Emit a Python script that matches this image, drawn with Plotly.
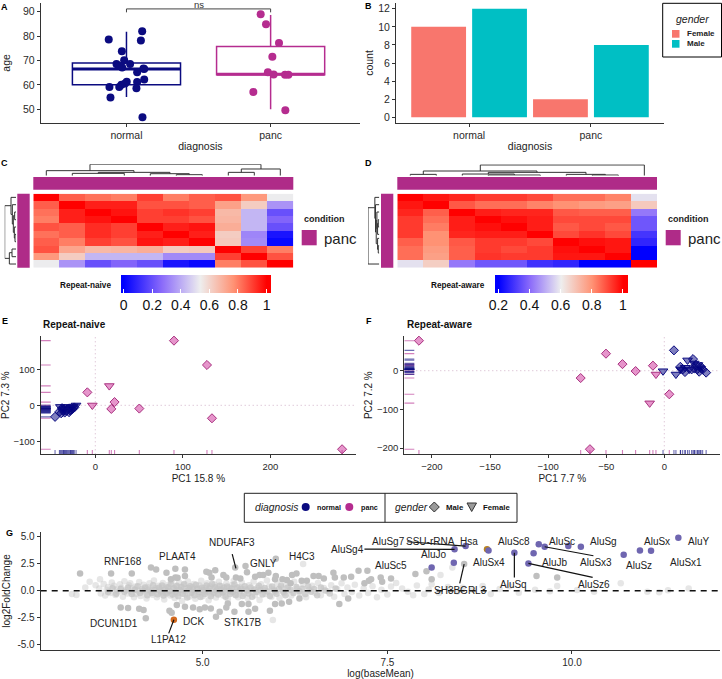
import plotly.graph_objects as go

W, H = 722, 679
FONT = "Liberation Sans"
NAVY = "#0B0B80"
PANC = "#B52C8F"
INK = "#222222"

# ---------- A: age by diagnosis ----------
age_normal_x = [0.877, 1.109, 1.100, 0.968, 0.984, 0.931, 1.025, 0.970, 1.118, 1.123, 1.074, 1.123,
                1.002, 1.074, 0.965, 0.882, 0.950, 1.069, 0.889, 1.111, 0.990, 0.945]
age_normal_y = [78.6, 82.0, 78.2, 73.8, 70.1, 68.6, 68.6, 67.1, 66.7, 66.5, 65.2, 62.2,
                61.3, 61.2, 60.1, 59.1, 59.1, 58.6, 54.8, 46.7, 60.6, 67.8]
age_panc_x = [1.931, 1.968, 2.058, 2.012, 1.981, 2.021, 2.100, 2.123, 1.880, 2.102]
age_panc_y = [88.9, 84.8, 77.1, 71.5, 65.2, 64.3, 64.1, 64.1, 57.1, 49.6]
box_normal = dict(q1=60.1, med=66.5, q3=69.0, lo=55.0, hi=81.8)
box_panc = dict(q1=64.1, med=64.4, q3=75.7, lo=50.0, hi=88.6)
diagnosis_labels = ["normal", "panc"]

# ---------- B: counts ----------
count_female = [10, 2]
count_male = [12, 8]

# ---------- C / D: correlation heatmaps ----------
corr_naive = [
    [1.00, .85, .82, .80, .90, .80, .85, .87, .75, .53],
    [.85, 1.00, .95, .95, .87, .87, .85, .73, .62, .35],
    [.82, .95, 1.00, .97, .90, .92, .90, .67, .42, .20],
    [.80, .95, .97, 1.00, .90, .90, .87, .68, .42, .25],
    [.87, .85, .93, .90, 1.00, .95, .97, .70, .42, .20],
    [.82, .85, .93, .90, .95, 1.00, .95, .62, .32, .05],
    [.85, .80, .90, .87, .97, .95, 1.00, .63, .33, .02],
    [.87, .72, .67, .68, .70, .62, .63, 1.00, .90, .80],
    [.75, .62, .42, .42, .42, .33, .33, .90, 1.00, .87],
    [.53, .35, .20, .25, .20, .05, .02, .80, .87, 1.00],
]
corr_aware = [
    [1.00, .97, .95, .92, .92, .90, .85, .85, .82, .58],
    [.97, 1.00, .88, .85, .85, .82, .80, .78, .77, .68],
    [.95, .87, 1.00, .96, .95, .95, .88, .87, .87, .42],
    [.92, .85, .96, 1.00, .98, .96, .90, .90, .90, .36],
    [.92, .83, .96, .98, 1.00, .96, .88, .90, .88, .36],
    [.92, .80, .95, .96, .96, 1.00, .90, .93, .90, .30],
    [.87, .80, .88, .92, .92, .90, 1.00, .98, .97, .27],
    [.85, .78, .87, .92, .90, .92, .98, 1.00, .97, .20],
    [.85, .77, .87, .93, .92, .92, .97, .97, 1.00, .18],
    [.58, .67, .42, .36, .36, .29, .27, .20, .18, 1.00],
]
# dendrogram merges: (a, b, height, base_a, base_b)
dendro_c_top = [(217, 373, 55, 62, 62), (529, 607, 59, 62, 62), (451, 568, 56, 62, 59), (295, 510, 52, 55, 56),
                (139, 402, 47, 62, 52), (685, 763, 52, 62, 62), (724, 841, 42, 52, 62), (270, 783, 28, 47, 42)]
dendro_c_left = [(238, 260, 45, 48, 48), (216, 249, 43, 48, 45), (171, 194, 44, 48, 48), (182, 232, 40, 44, 43),
                 (149, 207, 37, 48, 40), (127, 178, 33, 48, 37), (282, 305, 36, 48, 48), (293, 327, 28, 36, 48),
                 (152, 310, 14, 33, 28)]
dendro_d_top = [(148, 226, 58, 62, 62), (382, 538, 60, 62, 62), (304, 460, 57, 62, 60), (694, 772, 60, 62, 62),
                (616, 733, 58, 62, 60), (382, 675, 52, 57, 58), (187, 528, 48, 58, 52), (358, 850, 30, 48, 62)]
dendro_d_left = [(272, 294, 52, 55, 55), (250, 283, 50, 55, 52), (194, 216, 52, 55, 55), (205, 238, 50, 52, 55),
                 (171, 221, 48, 55, 50), (196, 266, 46, 48, 50), (149, 231, 44, 55, 46), (127, 190, 42, 55, 44),
                 (158, 327, 22, 42, 55)]

# ---------- E: PCA repeat-naive ----------
e_panc_dia_x = [89.9, 127.6, -9.1, 22.0, 18.3, 50.3, 133.3, 282.0]
e_panc_dia_y = [179.6, 112.0, 36.0, 9.0, -10.0, -9.0, -36.0, -122.0]
e_panc_tri_x = [16.0, -3.4]
e_panc_tri_y = [54.0, 0.0]
e_norm_dia_x = [-46, -41, -39, -37, -35, -33, -31, -30, -28, -26, -38, -24]
e_norm_dia_y = [-32, -18, -22, -13, -20, -15, -10, -19, -12, -10, -8, -6]
e_norm_tri_x = [-22, -25, -28, -32, -34, -36, -29, -40, -27, -36]
e_norm_tri_y = [0, -3, -5, -8, -4, -10, -15, -4, -8, -16]

# ---------- F: PCA repeat-aware ----------
f_panc_dia_x = [-211.2, -50.2, -36.0, -24.7, -9.8, -72.0, 4.3, -64.0]
f_panc_dia_y = [77.6, 44.0, 17.0, -1.0, 13.0, -19.0, -61.0, -203.0]
f_panc_tri_x = [-12.6, -7.2]
f_panc_tri_y = [-84.0, -9.5]
f_norm_dia_x = [8.3, 24.7, 13.8, 15.8, 17.8, 23.5, 27.3, 30.0, 31.6, 36.0, 33.0, 25.8]
f_norm_dia_y = [52.6, 30.0, 10.0, 3.4, -3.4, 3.4, 15.0, -2.6, 10.0, -5.0, 3.4, 6.0]
f_norm_tri_x = [-1.1, 10.0, 20.0, 21.5, 28.7, 29.0, 25.8, 14.0, 18.0, 31.0]
f_norm_tri_y = [-1.0, -9.5, 27.0, 3.4, 3.4, 15.0, 19.0, 3.4, 8.0, 6.0]

# ---------- G: MA plot ----------
g_ns = [
 (3.23,-.3),(3.29,-.4),(3.41,.3),(3.47,.83),(3.61,1.05),(3.55,.5),(3.6,.2),(3.62,-.25),(3.66,.62),(3.68,-.45),
 (3.7,.1),(3.72,.35),(3.75,-.2),(3.77,.75),(3.8,.45),(3.82,-.4),(3.84,.12),(3.86,-.08),(3.88,.6),(3.9,.28),
 (3.92,-.55),(3.94,.88),(3.96,.05),(3.98,-.25),(4.0,.5),(4.02,.7),(4.03,-.1),(4.05,.2),(4.07,-.6),(4.09,.38),
 (4.1,-.3),(4.12,.02),(4.14,.8),(4.16,-.48),(4.18,.15),(4.2,.55),(4.22,-.15),(4.24,-.72),(4.26,.32),(4.28,.68),
 (4.3,-.05),(4.32,-.38),(4.34,.95),(4.36,.22),(4.38,-.6),(4.4,.45),(4.42,.08),(4.44,-.25),(4.46,.72),(4.48,-.82),
 (4.5,.3),(4.52,-.1),(4.54,.55),(4.56,-.45),(4.58,.9),(4.6,.12),(4.62,-.68),(4.64,.4),(4.66,-.2),(4.68,.75),
 (4.7,.02),(4.72,-.95),(4.74,.5),(4.76,-.35),(4.78,.2),(4.8,.85),(4.82,-.55),(4.84,-.08),(4.86,.35),(4.88,.62),
 (4.9,-.75),(4.92,.1),(4.94,-.28),(4.96,.48),(4.98,.92),(5.0,-.5),(5.02,.25),(5.04,-.12),(5.06,.7),(5.08,-.88),
 (5.1,.38),(5.12,-.32),(5.14,.05),(5.16,.58),(5.18,-.62),(5.2,.18),(5.22,.82),(5.24,-.2),(5.26,.42),(5.28,-.45),
 (5.3,-.02),(5.32,.66),(5.34,-.78),(5.36,.28),(5.38,-.15),(5.4,.52),(5.42,.9),(5.44,-.38),(5.46,.1),(5.48,-.6),
 (5.5,.35),(5.53,.75),(5.56,-.25),(5.58,.15),(5.61,-.7),(5.63,.5),(5.66,-.05),(5.69,.85),(5.71,-.42),(5.74,.28),
 (5.77,-.85),(5.79,.6),(5.82,.08),(5.85,-.3),(5.87,.95),(5.9,.4),(5.93,-.55),(5.96,.15),(5.98,-.12),(6.01,.7),
 (6.04,-.68),(6.07,.3),(6.1,-.2),(6.13,.55),(6.16,.02),(6.2,-.45),(6.24,.82),(6.28,.2),(6.32,-.3),(6.36,.6),
 (6.36,2.46),(5.95,-2.7),(6.4,-.6),(6.44,.1),(6.48,.45),(6.52,-.18),(6.56,.72),(6.6,-.42),(6.64,.25),(6.7,-.05),
 (6.74,.5),(6.78,-.55),(6.82,.15),(6.88,.68),(6.92,-.3),(6.96,.3),(7.02,-.12),(7.06,.55),(7.12,-.45),(7.18,.2),
 (7.24,-.22),(7.3,.42),(7.36,-.6),(7.42,.1),(7.5,-.35),(7.55,.38),(7.62,.72),(7.7,.2),(7.78,-.1),(7.85,-.42),
 (7.9,.48),(8.0,-.3),(8.06,.12),(8.1,.6),(8.22,1.45),(8.2,-.2),(8.32,.35),(8.38,2.15),(8.45,-.08),(8.52,.28),
 (8.66,.1),(8.79,.43),(8.9,-.3),(9.02,.15),(9.28,-.18),(9.15,.42),(9.5,.1),(9.8,.43),(9.7,-.05),(10.07,.06),
 (10.3,-.1),(10.66,.68),(11.02,-.1),(11.18,-.15),(11.58,.2),(11.3,.05),
]
g_core = [
 (3.72,-.12),(3.78,.22),(3.83,-.28),(3.89,.15),(3.94,-.1),(3.99,.3),(4.04,-.3),(4.08,.1),(4.12,.42),(4.15,-.2),
 (4.19,.02),(4.22,.3),(4.25,-.42),(4.27,.12),(4.31,-.2),(4.33,.5),(4.35,.05),(4.39,-.32),(4.41,.28),(4.43,-.08),
 (4.45,.48),(4.47,-.45),(4.49,.12),(4.51,-.25),(4.53,.32),(4.55,-.02),(4.57,.6),(4.59,-.35),(4.61,.22),(4.63,-.12),
 (4.65,.45),(4.67,-.5),(4.69,.1),(4.71,.35),(4.73,-.28),(4.75,.62),(4.77,-.05),(4.79,-.62),(4.81,.25),(4.83,.42),
 (4.85,-.2),(4.87,.08),(4.89,-.42),(4.91,.55),(4.93,.18),(4.95,-.12),(4.97,-.58),(4.99,.3),(5.01,.05),(5.03,-.3),
 (5.05,.48),(5.07,-.05),(5.09,.2),(5.11,-.52),(5.13,.62),(5.15,-.18),(5.17,.32),(5.19,.02),(5.21,-.35),(5.23,.45),
 (5.25,.1),(5.27,-.15),(5.29,.28),(5.31,-.55),(5.33,.4),(5.35,.0),(5.37,-.3),(5.39,.2),(5.41,-.1),(5.43,.6),
 (5.45,-.42),(5.47,.3),(5.5,-.05),(5.52,.18),(5.54,-.48),(5.57,.42),(5.6,.02),(5.62,-.25),(5.65,.3),(5.67,-.55),
 (5.7,.12),(5.73,-.12),(5.76,.45),(5.78,.05),(5.81,-.35),(5.84,.25),(5.88,-.08),(5.91,-.48),(5.94,.38),(5.97,.02),
 (6.0,-.28),(6.03,.15),(6.06,.45),(6.09,-.1),(6.12,-.42),(6.15,.28),(6.19,.08),(6.23,-.2),(6.27,.35),(6.31,-.05),
 (6.35,.18),(6.39,-.3),(6.43,.38),(6.47,-.1),(6.51,.15),(6.55,-.42),(6.6,.3),(6.66,.02),(6.72,-.25),(6.8,.2),
]
g_sig = [
 (3.34,1.6),(3.76,1.6),(4.04,1.6),(4.30,2.15),(4.37,1.97),(4.51,1.66),(4.63,2.03),(4.76,1.97),(4.57,1.05),(4.63,1.23),
 (4.66,1.2),(4.76,1.35),(5.05,1.75),(5.09,1.66),(5.17,1.9),(5.12,1.23),(5.28,1.45),(5.32,1.23),(5.44,2.15),(5.45,1.23),
 (5.51,1.14),(5.58,2.28),(5.6,1.7),(5.71,1.3),(5.77,1.45),(5.82,1.45),(5.89,1.66),(5.99,2.95),(5.99,1.35),(5.98,1.05),
 (6.08,1.05),(6.14,.98),(6.21,1.45),(6.27,1.6),(6.19,.68),(6.34,.92),(6.41,.92),(6.5,1.35),(6.57,1.35),(6.64,1.14),
 (6.77,1.66),(6.79,1.23),(6.91,1.23),(7.01,1.3),(7.11,1.85),(7.23,1.85),(7.28,1.05),(7.41,1.23),(7.25,.92),(7.43,.83),
 (7.55,1.14),(7.88,1.54),(8.03,1.8),(8.1,1.05),(9.52,1.35),(9.8,1.23),(7.19,.68),(8.54,2.46),
 (3.89,-1.54),(3.99,-1.6),(4.14,-1.66),(4.2,-1.78),(4.23,-2.55),(4.55,-1.85),(4.58,-2.03),(4.65,-1.32),(4.76,-1.48),(4.87,-1.54),
 (4.96,-1.72),(5.03,-1.54),(5.18,-2.4),(5.11,-1.63),(5.23,-1.94),(5.32,-1.54),(5.34,-1.17),(5.43,-1.94),(5.53,-1.23),(5.62,-1.23),
 (5.62,-1.94),(5.71,-1.66),(5.91,-1.85),(5.98,-1.23),(6.07,-1.17),(6.17,-1.02),(6.31,-.71),(6.85,-1.23),(6.97,-.71),
]
g_repeat_x = [8.41, 8.56, 8.10, 8.40, 9.22, 9.48, 9.41, 9.55, 9.63, 9.95, 10.12, 10.70, 10.92, 11.07, 11.44, 8.87]
g_repeat_y = [3.82, 4.12, 2.15, 2.58, 3.50, 3.45, 2.52, 4.30, 4.06, 4.12, 4.06, 3.32, 3.72, 3.69, 4.89, 3.72]
g_gold = (8.85, 3.82)
g_orange = (4.61, -2.68)
g_leaders = [((7.19, 3.85), (8.41, 3.82)), ((7.77, 4.52), (8.56, 4.12)), ((8.48, .68), (8.54, 2.46)),
             ((9.22, 3.5), (9.22, 1.23)), ((9.63, 4.06), (10.29, 3.23)), ((9.41, 2.52), (10.28, 1.23)),
             ((5.4, 3.38), (5.45, 2.06)), ((4.61, -2.68), (4.54, -3.94))]
g_labels = [("RNF168", 123.3, 561.7), ("PLAAT4", 177.7, 556.7), ("NDUFAF3", 231.7, 542.3), ("GNLY", 263.7, 563.3),
            ("H4C3", 302.3, 556), ("AluSg4", 347, 549), ("DCUN1D1", 114, 623.3), ("DCK", 193, 621.7),
            ("STK17B", 242.7, 622), ("L1PA12", 168.3, 639.3), ("AluSg7", 388.3, 541), ("SSU-rRNA", 430, 541),
            ("Hsa", 468.7, 541), ("AluJo", 433.3, 554), ("AluSc5", 391, 565), ("AluSx4", 488.7, 562.7),
            ("AluSc8", 514, 541.7), ("AluSc", 561.7, 541), ("AluSg", 603.7, 541.7), ("AluSx", 656.7, 541),
            ("AluY", 698, 541), ("AluSx1", 686, 562.7), ("AluSz", 639.3, 565.7), ("AluSx3", 596, 562.7),
            ("AluJb", 554, 562.7), ("AluSz6", 594, 584), ("AluSq", 513.7, 584), ("SH3BGRL3", 460.3, 590)]

fig = go.Figure()
layout = dict(
    width=W, height=H, autosize=False, margin=dict(l=0, r=0, t=0, b=0, pad=0),
    paper_bgcolor="white", plot_bgcolor="rgba(0,0,0,0)", showlegend=False,
    font=dict(family=FONT, color=INK, size=10),
    bargap=0, bargroupgap=0.1, boxmode="overlay",
    shapes=[], annotations=[],
)


def axes(n, l, r, t, b, xr, yr, visible=True, xkw=None, ykw=None, size=10):
    """Place one axis pair on its pixel rectangle."""
    sx = "" if n == 1 else str(n)
    base = dict(showgrid=False, zeroline=False, showline=True, linecolor="#333333", linewidth=1,
                ticks="outside", ticklen=3, tickcolor="#333333", tickwidth=1,
                tickfont=dict(size=size, color="#2a2a2a", family=FONT), visible=visible)
    x = dict(base, domain=[l / W, r / W], range=xr, anchor="y" + sx)
    y = dict(base, domain=[1 - b / H, 1 - t / H], range=yr, anchor="x" + sx)
    x.update(xkw or {})
    y.update(ykw or {})
    layout["xaxis" + sx] = x
    layout["yaxis" + sx] = y
    return dict(xaxis="x" + sx, yaxis="y" + sx)


def ann(text, x, y, size=10, anchor="center", color=INK, angle=0, pad=1):
    layout["annotations"].append(dict(
        text=text, x=x / W, y=1 - y / H, xref="paper", yref="paper", showarrow=False, xanchor=anchor,
        yanchor="middle", textangle=angle, borderpad=pad, font=dict(size=size, family=FONT, color=color)))


def rect(l, r, t, b, fill="rgba(0,0,0,0)", line=None, width=1):
    layout["shapes"].append(dict(type="rect", xref="paper", yref="paper", x0=l / W, x1=r / W,
                                 y0=1 - b / H, y1=1 - t / H, fillcolor=fill,
                                 line=dict(color=line or fill, width=width if line else 0)))


def glyph(path_pts, fill, line=None):
    pts = " L ".join(f"{px / W},{1 - py / H}" for px, py in path_pts)
    layout["shapes"].append(dict(type="path", xref="paper", yref="paper", path=f"M {pts} Z", fillcolor=fill,
                                 line=dict(color=line or fill, width=1)))


def dendro(merges, orient, ax):
    xs, ys = [], []
    for a, b, h, ba, bb in merges:
        if orient == "top":
            xs += [a, a, b, b, None]
            ys += [ba, h, h, bb, None]
        else:
            xs += [ba, h, h, bb, None]
            ys += [a, a, b, b, None]
    fig.add_trace(go.Scatter(x=xs, y=ys, mode="lines", line=dict(color="#333333", width=1), hoverinfo="skip", **ax))


def rug(xs, ys, xmin, ymin, lx, ly, color, ax):
    rx, ry = [], []
    for v in ys:
        rx += [xmin, xmin + lx, None]
        ry += [v, v, None]
    for v in xs:
        rx += [v, v, None]
        ry += [ymin, ymin + ly, None]
    fig.add_trace(go.Scatter(x=rx, y=ry, mode="lines", line=dict(color=color, width=1.1), hoverinfo="skip", **ax))


# ---- A
ax = axes(1, 40.7, 360, 3.3, 122.5, [0.405, 2.62], [44.6, 93.4], size=10.5,
          xkw=dict(tickvals=[1, 2], ticktext=diagnosis_labels,
                   title=dict(text="diagnosis", font=dict(size=10.5), standoff=2)),
          ykw=dict(tickvals=[50, 60, 70, 80, 90],
                   title=dict(text="age", font=dict(size=10.5), standoff=12)))
for pos, st, c in [(1, box_normal, NAVY), (2, box_panc, PANC)]:
    fig.add_trace(go.Box(x=[pos], q1=[st["q1"]], median=[st["med"]], q3=[st["q3"]], lowerfence=[st["lo"]],
                         upperfence=[st["hi"]], width=0.75, whiskerwidth=0, boxpoints=False,
                         line=dict(color=c, width=1.5), fillcolor="rgba(255,255,255,0)", **ax))
    fig.add_trace(go.Scatter(x=[pos - 0.375, pos + 0.375], y=[st["med"], st["med"]], mode="lines",
                             line=dict(color=c, width=3), **ax))
fig.add_trace(go.Scatter(x=age_normal_x, y=age_normal_y, mode="markers", marker=dict(color=NAVY, size=8), **ax))
fig.add_trace(go.Scatter(x=age_panc_x, y=age_panc_y, mode="markers", marker=dict(color=PANC, size=8), **ax))
fig.add_trace(go.Scatter(x=[1, 1, 2, 2], y=[89.7, 91.1, 91.1, 89.7], mode="lines", cliponaxis=False,
                         line=dict(color="#444444", width=1), **ax))
ann("ns", 199, 4.6, 9.5, color="#333333", pad=0)

# ---- B
ax = axes(2, 396, 664, 3.3, 122.7, [0.4, 2.6], [-0.6, 12.6], size=10.5,
          xkw=dict(tickvals=[1, 2], ticktext=diagnosis_labels,
                   title=dict(text="diagnosis", font=dict(size=10.5), standoff=2)),
          ykw=dict(tickvals=[0, 2, 4, 6, 8, 10, 12],
                   title=dict(text="count", font=dict(size=10.5), standoff=2)))
fig.add_trace(go.Bar(x=[1, 2], y=count_female, name="Female", marker=dict(color="#F8766D", line=dict(width=0)), **ax))
fig.add_trace(go.Bar(x=[1, 2], y=count_male, name="Male", marker=dict(color="#00BFC4", line=dict(width=0)), **ax))
rect(662.7, 721.5, 3.3, 57, fill="white", line="black", width=1)
ann("<i>gender</i>", 692, 19, 10.5)
rect(672, 679.5, 30, 37.7, fill="#F8766D")
rect(672, 679.5, 40, 47.7, fill="#00BFC4")
ann("<b>Female</b>", 684.7, 33.7, 8, anchor="left")
ann("<b>Male</b>", 684.7, 43.7, 8, anchor="left")


# ---- C, D
def scale(low, mid, zmin, zmax):
    n = lambda v: (v - zmin) / (zmax - zmin)
    return [[0, "#0000FF"], [n(low), "#0000FF"], [n((low + mid) / 2), "#8B6BFA"], [n(mid), "#EEEEEE"],
            [n((mid + 1) / 2), "#FF9274"], [n(1), "#FF0000"], [1, "#FF0000"]]


def heat(n, z, l, r, low, mid, zmin, zmax, cb_l, cb_r, ticks):
    a = axes(n, l, r, 193.7, 267.7, [-0.5, 9.5], [9.5, -0.5], visible=False)
    fig.add_trace(go.Heatmap(
        z=z, zmin=zmin, zmax=zmax, colorscale=scale(low, mid, zmin, zmax), hoverongaps=False,
        colorbar=dict(orientation="h", x=(cb_l + cb_r) / 2 / W, xanchor="center", y=1 - 275 / H, yanchor="top",
                      len=cb_r - cb_l, lenmode="pixels", thickness=17.7, thicknessmode="pixels", outlinewidth=0,
                      xpad=0, ypad=0, tickvals=ticks, ticktext=[f"{t:g}" for t in ticks], ticks="inside",
                      ticklen=4, tickcolor="white", tickwidth=1,
                      tickfont=dict(size=14, color="#111111", family=FONT)), **a))


heat(3, corr_naive, 33.3, 293.3, 0.0, 0.535, -0.02, 1.03, 121, 270.7, [0, .2, .4, .6, .8, 1])
heat(4, corr_aware, 397.3, 657, 0.2, 0.6, 0.175, 1.03, 494.3, 627.7, [.2, .4, .6, .8, 1])
COND = "#AF2B88"
rect(33.3, 293.3, 177, 189.7, fill=COND)
rect(17.3, 29.7, 193.7, 267.7, fill=COND)
rect(397.3, 657, 177, 189.7, fill=COND)
rect(381, 393.3, 193.7, 267.7, fill=COND)
a = axes(5, 33.3, 293.3, 164.3, 175.7, [100, 880], [62, 28], visible=False)
dendro(dendro_c_top, "top", a)
a = axes(6, 4.7, 16, 193.7, 267.7, [14, 48], [338, 116], visible=False)
dendro(dendro_c_left, "left", a)
a = axes(7, 397.3, 657, 164.3, 175.7, [109, 888], [62, 28], visible=False)
dendro(dendro_d_top, "top", a)
a = axes(8, 368, 379.3, 193.7, 267.7, [22, 55], [338, 116], visible=False)
dendro(dendro_d_left, "left", a)
for off, name, nx in [(0, "Repeat-naive", 58), (364, "Repeat-aware", 428.5)]:
    ann("<b>condition</b>", 301.7 + off, 219, 9, anchor="left")
    rect(301.7 + off, 316.7 + off, 230, 245.3, fill=COND)
    ann("panc", 322 + off, 238.3, 15, anchor="left")
    ann(f"<b>{name}</b>", nx, 285, 8.2, anchor="left", color="#111111")


# ---- E, F
def pca(n, box, xr, yr, xt, yt, xtitle, ytitle, pd_, pt_, nd_, nt_, lx, ly, stand):
    a = axes(n, *box, xr, yr, size=9.5,
             xkw=dict(tickvals=xt, title=dict(text=xtitle, font=dict(size=10), standoff=4)),
             ykw=dict(tickvals=yt, title=dict(text=ytitle, font=dict(size=10), standoff=stand)))
    guide = dict(color="rgba(205,170,195,0.9)", width=1, dash="1px,3px")
    fig.add_trace(go.Scatter(x=[0, 0], y=yr, mode="lines", line=guide, hoverinfo="skip", **a))
    fig.add_trace(go.Scatter(x=xr, y=[0, 0], mode="lines", line=guide, hoverinfo="skip", **a))
    rug(pd_[0] + pt_[0], pd_[1] + pt_[1], xr[0], yr[0], lx, ly, "rgba(181,44,143,0.6)", a)
    rug(nd_[0] + nt_[0], nd_[1] + nt_[1], xr[0], yr[0], lx, ly, "rgba(11,11,128,0.6)", a)
    for (px_, py_), sym, sz, fill, edge in [
        (nd_, "diamond", 7, "rgba(0,0,128,0.5)", NAVY), (nt_, "triangle-down", 8.4, "rgba(0,0,128,0.5)", NAVY),
        (pd_, "diamond", 7, "rgba(205,43,151,0.5)", "#A8307F"), (pt_, "triangle-down", 8.4, "rgba(205,43,151,0.5)", "#A8307F")]:
        fig.add_trace(go.Scatter(x=px_, y=py_, mode="markers", cliponaxis=False,
                                 marker=dict(symbol=sym, size=sz, color=fill, line=dict(color=edge, width=1)), **a))


pca(9, (40.7, 356, 336, 454.3), [-62.4, 297.9], [-136, 192.5], [0, 100, 200], [-100, 0, 100],
    "PC1 15.8 %", "PC2 7.3 %", (e_panc_dia_x, e_panc_dia_y), (e_panc_tri_x, e_panc_tri_y),
    (e_norm_dia_x, e_norm_dia_y), (e_norm_tri_x, e_norm_tri_y), 11.4, 12, 5)
pca(10, (404.3, 720.3, 336, 454.3), [-223.8, 48.2], [-216.2, 89.7], [-200, -150, -100, -50, 0], [-200, -100, 0],
    "PC1 7.7 %", "PC2 7.2 %", (f_panc_dia_x, f_panc_dia_y), (f_panc_tri_x, f_panc_tri_y),
    (f_norm_dia_x, f_norm_dia_y), (f_norm_tri_x, f_norm_tri_y), 8.6, 11, 2)
ann("<b>Repeat-naive</b>", 40.7, 324, 10, anchor="left", color="#111111")
ann("<b>Repeat-aware</b>", 405, 324, 10, anchor="left", color="#111111")

# ---- middle legend
rect(244.3, 517, 493.3, 522.3, line="#222222", width=1)
layout["shapes"].append(dict(type="line", xref="paper", yref="paper", x0=385 / W, x1=385 / W,
                             y0=1 - 522.3 / H, y1=1 - 493.3 / H, line=dict(color="#222222", width=1)))
ann("<i>diagnosis</i>", 253, 507, 10.3, anchor="left")
for cx, c in [(305.7, NAVY), (349.3, PANC)]:
    layout["shapes"].append(dict(type="circle", xref="paper", yref="paper", x0=(cx - 4) / W, x1=(cx + 4) / W,
                                 y0=1 - 511 / H, y1=1 - 503 / H, fillcolor=c, line=dict(width=0)))
ann("<b>normal</b>", 314.7, 507, 7.2, anchor="left", color="#111111")
ann("<b>panc</b>", 359.3, 507, 7.2, anchor="left", color="#111111")
ann("<i>gender</i>", 393.3, 507, 10.3, anchor="left")
glyph([(429.3, 507), (434.3, 502), (439.3, 507), (434.3, 512)], "#9A9A9A", "#333333")
glyph([(467, 503), (476.5, 503), (471.7, 511.5)], "#9A9A9A", "#333333")
ann("<b>Male</b>", 443.7, 507, 7.8, anchor="left", color="#111111")
ann("<b>Female</b>", 481, 507, 7.8, anchor="left", color="#111111")

# ---- G
ax = axes(11, 40.7, 720.3, 531.7, 650.3, [2.807, 12.008], [-5.5, 5.45], size=10,
          xkw=dict(tickvals=[5, 7.5, 10], ticktext=["5.0", "7.5", "10.0"],
                   title=dict(text="log(baseMean)", font=dict(size=10), standoff=3)),
          ykw=dict(tickvals=[-5, -2.5, 0, 2.5, 5], ticktext=["-5.0", "-2.5", "0.0", "2.5", "5.0"],
                   title=dict(text="log2FoldChange", font=dict(size=10), standoff=4)))
fig.add_trace(go.Scatter(x=[p[0] for p in g_ns], y=[p[1] for p in g_ns], mode="markers",
                         marker=dict(color="#C4C4C4", size=6.5, opacity=0.42), **ax))
fig.add_trace(go.Scatter(x=[p[0] for p in g_core], y=[p[1] for p in g_core], mode="markers",
                         marker=dict(color="#C4C4C4", size=6.5, opacity=0.75), **ax))
fig.add_trace(go.Scatter(x=[p[0] for p in g_sig], y=[p[1] for p in g_sig], mode="markers",
                         marker=dict(color="#BFBFBF", size=6.5), **ax))
fig.add_trace(go.Scatter(x=[g_gold[0]], y=[g_gold[1]], mode="markers", marker=dict(color="#B8821E", size=6.5), **ax))
fig.add_trace(go.Scatter(x=g_repeat_x, y=g_repeat_y, mode="markers", marker=dict(color="#6F66B0", size=6.5), **ax))
fig.add_trace(go.Scatter(x=[g_orange[0]], y=[g_orange[1]], mode="markers", marker=dict(color="#D2691E", size=6.5), **ax))
fig.add_trace(go.Scatter(x=[2.807, 12.008], y=[0, 0], mode="lines", line=dict(color="#111111", width=1.4, dash="6px,5px"), **ax))
lx, ly = [], []
for p, q in g_leaders:
    lx += [p[0], q[0], None]
    ly += [p[1], q[1], None]
fig.add_trace(go.Scatter(x=lx, y=ly, mode="lines", line=dict(color="#111111", width=1.2), **ax))
for t, x, y in g_labels:
    ann(t, x, y, 10, color="#222222")

for t, x, y in [("A", 4.5, 7), ("B", 368, 6.5), ("C", 4.5, 163.3), ("D", 368.5, 163.3),
                ("E", 5, 321), ("F", 369, 321), ("G", 9, 533)]:
    ann(f"<b>{t}</b>", x, y, 9, color="black")

fig.update_layout(**layout)
fig.write_html("out.html", config=dict(displayModeBar=False),
               post_script="document.body.style.margin='0';document.body.style.overflow='hidden';")
